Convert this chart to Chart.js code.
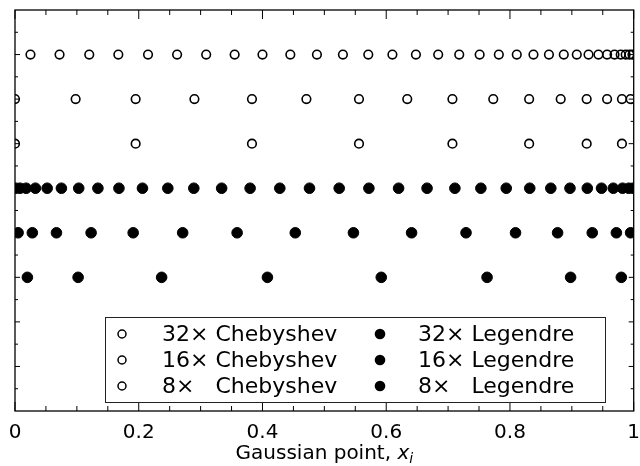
<!DOCTYPE html>
<html>
<head>
<meta charset="utf-8">
<script src="https://cdn.jsdelivr.net/npm/chart.js@4.4.0/dist/chart.umd.min.js"></script>
<style>
  body { margin: 0; background: #fff; }
  #wrap { width: 640px; height: 466px; }
</style>
</head>
<body>
<div id="wrap"><canvas id="myChart"></canvas></div>
<script>
// quadrature node positions on [0, 1], one row per rule
var cheb32 = [0.025, 0.072, 0.120, 0.167, 0.215, 0.262, 0.309, 0.355, 0.400, 0.445, 0.488, 0.530,
              0.571, 0.610, 0.648, 0.684, 0.718, 0.751, 0.782, 0.811, 0.838, 0.863, 0.887, 0.908,
              0.927, 0.943, 0.957, 0.969, 0.979, 0.987, 0.993, 0.998];
var cheb16 = [0, 0.098, 0.195, 0.290, 0.383, 0.471, 0.556, 0.634, 0.707, 0.773, 0.831, 0.882,
              0.924, 0.957, 0.981, 0.995];
var cheb8 = [0, 0.195, 0.383, 0.556, 0.707, 0.831, 0.924, 0.981];
var leg32 = [0.001, 0.008, 0.018, 0.033, 0.052, 0.075, 0.103, 0.134, 0.168, 0.206, 0.247, 0.289,
             0.334, 0.380, 0.428, 0.476, 0.524, 0.572, 0.620, 0.666, 0.711, 0.753, 0.794, 0.832,
             0.866, 0.897, 0.925, 0.948, 0.967, 0.982, 0.992, 0.999];
var leg16 = [0.005, 0.028, 0.067, 0.123, 0.191, 0.271, 0.359, 0.453, 0.547, 0.641, 0.729, 0.809,
             0.877, 0.933, 0.972, 0.995];
var leg8 = [0.020, 0.102, 0.237, 0.408, 0.592, 0.763, 0.898, 0.980];

var rowLabels = ['32× Chebyshev', '16× Chebyshev', '8× Chebyshev',
                 '32× Legendre', '16× Legendre', '8× Legendre'];
var rowLevels = [8, 7, 6, 5, 4, 3];

var xTicks = [0, 0.2, 0.4, 0.6, 0.8, 1];
var xTickLabels = ['0', '0.2', '0.4', '0.6', '0.8', '1'];
var xMinorTicks = [0.05, 0.1, 0.15, 0.25, 0.3, 0.35, 0.45, 0.5, 0.55, 0.65, 0.7, 0.75, 0.85, 0.9, 0.95];
var yTicks = [1, 2, 3, 4, 5, 6, 7, 8];
var yMinorTicks = [0.5, 1.5, 2.5, 3.5, 4.5, 5.5, 6.5, 7.5, 8.5];
var xTitle = 'Gaussian point, ';

var FONT = '"DejaVu Sans", sans-serif';

function row(xs, level) {
    return xs.map(function (v) { return { x: v, y: level }; });
}

var rows = [cheb32, cheb16, cheb8, leg32, leg16, leg8];
var datasets = rows.map(function (xs, i) {
    var open = i < 3;
    return {
        label: rowLabels[i],
        data: row(xs, rowLevels[i]),
        pointStyle: 'circle',
        pointRadius: open ? 4.3 : 5.3,
        pointBorderWidth: open ? 1.6 : 1,
        pointBorderColor: '#000',
        pointBackgroundColor: open ? 'rgba(0,0,0,0)' : '#000',
        clip: 0
    };
});

// box, inward ticks, tick labels and axis title
var axesBox = {
    id: 'axesBox',
    afterDatasetsDraw: function (chart) {
        var ctx = chart.ctx, a = chart.chartArea;
        var xs = chart.scales.x, ys = chart.scales.y;
        ctx.save();
        ctx.strokeStyle = '#000';
        ctx.lineWidth = 1.3;
        ctx.strokeRect(a.left, a.top, a.right - a.left, a.bottom - a.top);

        ctx.lineWidth = 1;
        ctx.beginPath();
        xTicks.forEach(function (t) {
            var px = xs.getPixelForValue(t);
            ctx.moveTo(px, a.bottom); ctx.lineTo(px, a.bottom - 9);
            ctx.moveTo(px, a.top); ctx.lineTo(px, a.top + 9);
        });
        xMinorTicks.forEach(function (t) {
            var px = xs.getPixelForValue(t);
            ctx.moveTo(px, a.bottom); ctx.lineTo(px, a.bottom - 5);
            ctx.moveTo(px, a.top); ctx.lineTo(px, a.top + 5);
        });
        yTicks.forEach(function (t) {
            var py = ys.getPixelForValue(t);
            ctx.moveTo(a.left, py); ctx.lineTo(a.left + 5, py);
            ctx.moveTo(a.right, py); ctx.lineTo(a.right - 5, py);
        });
        yMinorTicks.forEach(function (t) {
            var py = ys.getPixelForValue(t);
            ctx.moveTo(a.left, py); ctx.lineTo(a.left + 3, py);
            ctx.moveTo(a.right, py); ctx.lineTo(a.right - 3, py);
        });
        ctx.stroke();

        ctx.fillStyle = '#000';
        ctx.font = '20px ' + FONT;
        ctx.textAlign = 'center';
        ctx.textBaseline = 'alphabetic';
        xTicks.forEach(function (t, i) {
            ctx.fillText(xTickLabels[i], xs.getPixelForValue(t), a.bottom + 27);
        });

        // title: plain part, italic x, italic subscript i
        var base = a.bottom + 48;
        ctx.textAlign = 'left';
        ctx.font = '20px ' + FONT;
        var w1 = ctx.measureText(xTitle).width;
        ctx.font = 'italic 20px ' + FONT;
        var w2 = ctx.measureText('x').width;
        ctx.font = 'italic 14px ' + FONT;
        var w3 = ctx.measureText('i').width;
        var x0 = (a.left + a.right) / 2 - (w1 + w2 + w3) / 2;
        ctx.font = '20px ' + FONT;
        ctx.fillText(xTitle, x0, base);
        ctx.font = 'italic 20px ' + FONT;
        ctx.fillText('x', x0 + w1, base);
        ctx.font = 'italic 14px ' + FONT;
        ctx.fillText('i', x0 + w1 + w2, base + 4);
        ctx.restore();
    }
};

// two-column legend inside the lower part of the plot
var boxLegend = {
    id: 'boxLegend',
    afterDraw: function (chart) {
        var ctx = chart.ctx;
        var left = 105, top = 317, right = 605, bottom = 402;
        var colMarker = [122, 380], colText = [162, 418];
        var rowY = [334, 360, 386];
        ctx.save();
        ctx.fillStyle = '#fff';
        ctx.fillRect(left, top, right - left, bottom - top);
        ctx.strokeStyle = '#222';
        ctx.lineWidth = 1;
        ctx.strokeRect(left + 0.5, top + 0.5, right - left, bottom - top);

        ctx.font = '22px ' + FONT;
        ctx.textBaseline = 'middle';
        ctx.textAlign = 'left';
        var gap = ctx.measureText('32× ').width;
        chart.data.datasets.forEach(function (ds, i) {
            var col = i < 3 ? 0 : 1, r = i % 3;
            var y = rowY[r];
            ctx.beginPath();
            ctx.arc(colMarker[col], y, col === 0 ? 4 : 5.3, 0, Math.PI * 2);
            if (col === 0) {
                ctx.lineWidth = 1.5;
                ctx.strokeStyle = '#000';
                ctx.stroke();
            } else {
                ctx.fillStyle = '#000';
                ctx.fill();
            }
            var parts = ds.label.split(' ');
            ctx.fillStyle = '#000';
            ctx.fillText(parts[0], colText[col], y + 1);
            ctx.fillText(parts[1], colText[col] + gap, y + 1);
        });
        ctx.restore();
    }
};

new Chart(document.getElementById('myChart'), {
    type: 'scatter',
    data: { datasets: datasets },
    options: {
        responsive: true,
        maintainAspectRatio: false,
        animation: false,
        layout: { padding: { left: 15, right: 2, top: 10, bottom: 55 } },
        plugins: { legend: { display: false }, tooltip: { enabled: false } },
        scales: {
            x: { type: 'linear', min: 0, max: 1, display: false },
            y: { type: 'linear', min: 0, max: 9, display: false }
        }
    },
    plugins: [axesBox, boxLegend]
});
</script>
</body>
</html>
